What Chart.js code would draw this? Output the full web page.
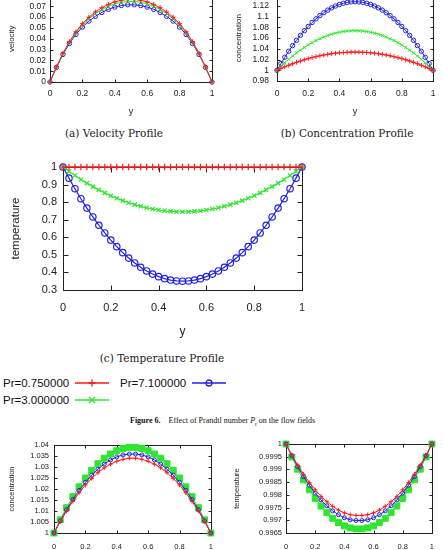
<!DOCTYPE html>
<html><head><meta charset="utf-8">
<script src="https://cdn.jsdelivr.net/npm/chart.js@4.4.1/dist/chart.umd.min.js"></script>
<style>
html,body{margin:0;padding:0;background:#fff;}
body{width:443px;height:550px;overflow:hidden;position:relative;}
canvas{position:absolute;}
.cap{position:absolute;font-family:"DejaVu Serif","Liberation Serif",serif;font-size:10.5px;color:#1a1a1a;white-space:nowrap;transform:translate(-50%,-50%);}
.leg{position:absolute;font-family:"Liberation Sans",Arial,sans-serif;font-size:11.5px;color:#111;white-space:nowrap;line-height:14px;}
.fig{position:absolute;font-family:"Liberation Serif","Times New Roman",serif;font-size:8px;color:#111;white-space:nowrap;line-height:10px;}
svg{position:absolute;}
</style></head><body>
<div class="cap" style="left:114px;top:133px">(a) Velocity Profile</div>
<div class="cap" style="left:347px;top:133px">(b) Concentration Profile</div>
<div class="cap" style="left:162px;top:358px">(c) Temperature Profile</div>

<div class="leg" style="left:3px;top:376px">Pr=0.750000</div>
<svg style="left:74px;top:378px" width="36" height="10"><line x1="1" y1="5" x2="35" y2="5" stroke="#ff1a1a" stroke-width="1.3"/><path d="M18 1.5V8.5M14.5 5H21.5" stroke="#ff1a1a" stroke-width="1.3"/></svg>
<div class="leg" style="left:120px;top:376px">Pr=7.100000</div>
<svg style="left:191px;top:378px" width="36" height="10"><line x1="1" y1="5" x2="35" y2="5" stroke="#2020e0" stroke-width="1.3"/><circle cx="18" cy="5" r="3" fill="none" stroke="#2020e0" stroke-width="1.3"/></svg>
<div class="leg" style="left:3px;top:393px">Pr=3.000000</div>
<svg style="left:74px;top:395px" width="36" height="10"><line x1="1" y1="5" x2="35" y2="5" stroke="#2ee62e" stroke-width="1.3"/><path d="M15 2L21 8M21 2L15 8" stroke="#2ee62e" stroke-width="1.3"/></svg>

<div class="fig" style="left:130px;top:416px"><b>Figure 6.</b>&nbsp;&nbsp;&nbsp; Effect of Prandtl number <i>P</i><sub style="font-size:5.5px">r</sub> on the flow fields</div>

<script>
// ---------------- data ----------------
const yCoarse = [0,0.04,0.08,0.12,0.16,0.2,0.24,0.28,0.32,0.36,0.4,0.44,0.48,0.52,0.56,0.6,0.64,0.68,0.72,0.76,0.8,0.84,0.88,0.92,0.96,1];
const yFine = [0,0.025,0.05,0.075,0.1,0.125,0.15,0.175,0.2,0.225,0.25,0.275,0.3,0.325,0.35,0.375,0.4,0.425,0.45,0.475,0.5,0.525,0.55,0.575,0.6,0.625,0.65,0.675,0.7,0.725,0.75,0.775,0.8,0.825,0.85,0.875,0.9,0.925,0.95,0.975,1];

const seriesNames = ['Pr=0.750000','Pr=3.000000','Pr=7.100000'];

const velRed   = [0,0.0140,0.0266,0.0373,0.0464,0.0539,0.0599,0.0648,0.0687,0.0718,0.0741,0.0756,0.0764,0.0764,0.0756,0.0741,0.0718,0.0687,0.0648,0.0599,0.0539,0.0464,0.0373,0.0266,0.0140,0];
const velGreen = [0,0.0138,0.0262,0.0367,0.0456,0.0528,0.0586,0.0633,0.0671,0.0701,0.0723,0.0737,0.0745,0.0745,0.0737,0.0723,0.0701,0.0671,0.0633,0.0586,0.0528,0.0456,0.0367,0.0262,0.0138,0];
const velBlue  = [0,0.0135,0.0255,0.0355,0.0440,0.0508,0.0563,0.0607,0.0643,0.0672,0.0693,0.0707,0.0714,0.0714,0.0707,0.0693,0.0672,0.0643,0.0607,0.0563,0.0508,0.0440,0.0355,0.0255,0.0135,0];

const concRed   = [1,1.0033,1.0065,1.0094,1.0122,1.0149,1.0173,1.0196,1.0218,1.0237,1.0255,1.0271,1.0286,1.0298,1.0309,1.0319,1.0326,1.0332,1.0337,1.0339,1.034,1.0339,1.0337,1.0332,1.0326,1.0319,1.0309,1.0298,1.0286,1.0271,1.0255,1.0237,1.0218,1.0196,1.0173,1.0149,1.0122,1.0094,1.0065,1.0033,1];
const concGreen = [1,1.0072,1.0141,1.0205,1.0266,1.0324,1.0377,1.0427,1.0474,1.0516,1.0555,1.059,1.0622,1.0649,1.0673,1.0694,1.071,1.0723,1.0733,1.0738,1.074,1.0738,1.0733,1.0723,1.071,1.0694,1.0673,1.0649,1.0622,1.059,1.0555,1.0516,1.0474,1.0427,1.0377,1.0324,1.0266,1.0205,1.0141,1.0072,1];
const concBlue  = [1,1.0125,1.0243,1.0355,1.0461,1.056,1.0653,1.0739,1.0819,1.0893,1.096,1.1021,1.1075,1.1123,1.1165,1.12,1.1229,1.1251,1.1267,1.1277,1.128,1.1277,1.1267,1.1251,1.1229,1.12,1.1165,1.1123,1.1075,1.1021,1.096,1.0893,1.0819,1.0739,1.0653,1.056,1.0461,1.0355,1.0243,1.0125,1];

const tempRed   = [1,1,1,1,1,1,1,1,1,1,1,1,1,1,1,1,1,1,1,1,1,1,1,1,1,1,1,1,1,1,1,1,1,1,1,1,1,1,1,1,1];
const tempGreen = [1,0.9751,0.9516,0.9292,0.9082,0.8884,0.87,0.8527,0.8368,0.8221,0.8088,0.7966,0.7858,0.7762,0.768,0.7609,0.7552,0.7507,0.7476,0.7456,0.745,0.7456,0.7476,0.7507,0.7552,0.7609,0.768,0.7762,0.7858,0.7966,0.8088,0.8221,0.8368,0.8527,0.87,0.8884,0.9082,0.9292,0.9516,0.9751,1];
const tempBlue  = [1,0.9366,0.8765,0.8196,0.766,0.7156,0.6685,0.6246,0.584,0.5466,0.5125,0.4816,0.454,0.4296,0.4085,0.3906,0.376,0.3646,0.3565,0.3516,0.35,0.3516,0.3565,0.3646,0.376,0.3906,0.4085,0.4296,0.454,0.4816,0.5125,0.5466,0.584,0.6246,0.6685,0.7156,0.766,0.8196,0.8765,0.9366,1];

const botConcRed   = [1,1.0052,1.01,1.0144,1.0183,1.0218,1.0248,1.0274,1.0296,1.0313,1.0326,1.0335,1.034,1.034,1.0335,1.0326,1.0313,1.0296,1.0274,1.0248,1.0218,1.0183,1.0144,1.01,1.0052,1];
const botConcBlue  = [1,1.0055,1.0106,1.0152,1.0194,1.023,1.0263,1.029,1.0313,1.0332,1.0346,1.0355,1.0359,1.0359,1.0355,1.0346,1.0332,1.0313,1.029,1.0263,1.023,1.0194,1.0152,1.0106,1.0055,1];
const botConcGreen = [1,1.006,1.0115,1.0165,1.021,1.025,1.0285,1.0315,1.034,1.0359,1.0374,1.0384,1.0389,1.0389,1.0384,1.0374,1.0359,1.034,1.0315,1.0285,1.025,1.021,1.0165,1.0115,1.006,1];

const botTempRed   = [1,0.99957,0.99917,0.99881,0.99848,0.9982,0.99794,0.99773,0.99755,0.9974,0.99729,0.99722,0.99719,0.99719,0.99722,0.99729,0.9974,0.99755,0.99773,0.99794,0.9982,0.99848,0.99881,0.99917,0.99957,1];
const botTempBlue  = [1,0.99954,0.99911,0.99872,0.99838,0.99807,0.9978,0.99757,0.99737,0.99722,0.9971,0.99702,0.99699,0.99699,0.99702,0.9971,0.99722,0.99737,0.99757,0.9978,0.99807,0.99838,0.99872,0.99911,0.99954,1];
const botTempGreen = [1,0.99949,0.99901,0.99859,0.9982,0.99786,0.99756,0.9973,0.99708,0.99691,0.99678,0.9967,0.99666,0.99666,0.9967,0.99678,0.99691,0.99708,0.9973,0.99756,0.99786,0.9982,0.99859,0.99901,0.99949,1];

const xTickVals     = [0,0.2,0.4,0.6,0.8,1];
const velTickVals   = [0,0.01,0.02,0.03,0.04,0.05,0.06,0.07,0.08];
const concTickVals  = [0.98,1,1.02,1.04,1.06,1.08,1.1,1.12,1.14];
const tempTickVals  = [0.3,0.4,0.5,0.6,0.7,0.8,0.9,1];
const bConcTickVals = [1,1.005,1.01,1.015,1.02,1.025,1.03,1.035,1.04];
const bTempTickVals = [0.9965,0.997,0.9975,0.998,0.9985,0.999,0.9995,1];

// ---------------- styles ----------------
const RED='#ff1a1a', GREEN='#2ee62e', BLUE='#2020e0';
const SANS='"Liberation Sans", Arial, sans-serif';

const framePlugin = {
  id:'frame',
  beforeDatasetsDraw(chart, args, o){
    const {ctx, chartArea:a, scales:{x,y}} = chart;
    const tl = o.tl || 4;
    const L=Math.round(a.left)+0.5, R=Math.round(a.right)+0.5, T=Math.round(a.top)+0.5, B=Math.round(a.bottom)+0.5;
    ctx.save();
    ctx.strokeStyle='#222'; ctx.lineWidth=1;
    ctx.beginPath();
    x.ticks.forEach(t=>{const p=Math.round(x.getPixelForValue(t.value))+0.5; ctx.moveTo(p,B); ctx.lineTo(p,B-tl); ctx.moveTo(p,T); ctx.lineTo(p,T+tl);});
    y.ticks.forEach(t=>{const p=Math.round(y.getPixelForValue(t.value))+0.5; ctx.moveTo(L,p); ctx.lineTo(L+tl,p); ctx.moveTo(R,p); ctx.lineTo(R-tl,p);});
    ctx.stroke();
    ctx.strokeRect(L,T,R-L,B-T);
    ctx.restore();
  }
};

function ds(label, xs, ys, color, style, r, bw){
  return {label, data: xs.map((x,i)=>({x, y: ys[i]})), borderColor: color, backgroundColor: color,
    pointStyle: style, pointRadius: r, pointBorderColor: color,
    pointBackgroundColor: style==='rect' ? color : 'rgba(0,0,0,0)',
    pointBorderWidth: bw||1, borderWidth: bw||1, tension: 0, clip: false};
}

function mk(c){
  const cv=document.createElement('canvas');
  cv.width=c.W; cv.height=c.H;
  cv.style.left=c.L+'px'; cv.style.top=c.T+'px'; cv.style.width=c.W+'px'; cv.style.height=c.H+'px';
  document.body.appendChild(cv);
  const fmt = v => String(Number(v.toFixed(6)));
  new Chart(cv, {
    type:'line',
    data:{datasets:c.datasets},
    plugins:[framePlugin],
    options:{
      responsive:false, animation:false, events:[],
      layout:{padding:{left:0, top:c.y0-c.T, right:c.L+c.W-c.x1, bottom:0}},
      plugins:{legend:{display:false}, tooltip:{enabled:false}, frame:{tl:c.tl}},
      scales:{
        x:{type:'linear', min:0, max:1,
          afterBuildTicks:s=>{s.ticks=xTickVals.map(v=>({value:v}));},
          afterFit:s=>{s.height=c.T+c.H-c.y1;},
          grid:{display:false, drawTicks:false}, border:{display:false},
          ticks:{padding:c.xPad, autoSkip:false, maxRotation:0, color:'#222', font:{family:SANS, size:c.tf}, callback:fmt},
          title:{display:!!c.xTitle, text:c.xTitle||'', color:'#222', font:{family:SANS, size:c.xtf}, padding:{top:0,bottom:c.xTitlePad}}},
        y:{type:'linear', min:c.ymin, max:c.ymax,
          afterBuildTicks:s=>{s.ticks=c.yTicks.map(v=>({value:v}));},
          afterFit:s=>{s.width=c.x0-c.L;},
          grid:{display:false, drawTicks:false}, border:{display:false},
          ticks:{padding:c.yPad, autoSkip:false, color:'#222', font:{family:SANS, size:c.tf}, callback:fmt},
          title:{display:true, text:c.yTitle, color:'#222', font:{family:SANS, size:c.ytf}, padding:{top:c.yTitlePad,bottom:0}}}
      }
    }
  });
}

// (a) velocity
mk({L:0,T:-20,W:222,H:140, x0:50,x1:212,y0:-4.5,y1:82, ymin:0,ymax:0.08, yTicks:velTickVals,
  tf:8.5, xtf:9, ytf:8, xPad:6.8, yPad:4, xTitle:'y', xTitlePad:2.6, yTitle:'velocity', yTitlePad:7.2, tl:3,
  datasets:[ds(seriesNames[0],yCoarse,velRed,RED,'cross',2.4), ds(seriesNames[1],yCoarse,velGreen,GREEN,'crossRot',2.2), ds(seriesNames[2],yCoarse,velBlue,BLUE,'circle',2.2)]});

// (b) concentration
mk({L:222,T:-20,W:221,H:140, x0:277,x1:439,y0:-4.7,y1:81, ymin:0.98,ymax:1.14, yTicks:concTickVals,
  tf:8.5, xtf:9, ytf:8, xPad:7.6, yPad:8, xTitle:'y', xTitlePad:2.6, yTitle:'concentration', yTitlePad:12.2, tl:3,
  datasets:[ds(seriesNames[0],yFine,concRed,RED,'cross',2.4), ds(seriesNames[1],yFine,concGreen,GREEN,'crossRot',2.2), ds(seriesNames[2],yFine,concBlue,BLUE,'circle',2.2)]});

// (c) temperature
mk({L:0,T:150,W:320,H:190, x0:63,x1:302,y0:167,y1:290, ymin:0.3,ymax:1, yTicks:tempTickVals,
  tf:11, xtf:12, ytf:11.5, xPad:11.4, yPad:6, xTitle:'y', xTitlePad:0.8, yTitle:'temperature', yTitlePad:9.1, tl:5,
  datasets:[ds(seriesNames[0],yFine,tempRed,RED,'cross',3.2,1.2), ds(seriesNames[1],yFine,tempGreen,GREEN,'crossRot',3,1.2), ds(seriesNames[2],yFine,tempBlue,BLUE,'circle',3.2,1.2)]});

// bottom-left concentration
mk({L:0,T:425,W:222,H:125, x0:54,x1:212,y0:445,y1:533, ymin:1,ymax:1.04, yTicks:bConcTickVals,
  tf:7.5, xtf:8, ytf:7.5, xPad:9.0, yPad:5, xTitle:'', xTitlePad:0, yTitle:'concentration', yTitlePad:7.5, tl:3,
  datasets:[ds(seriesNames[0],yCoarse,botConcRed,RED,'cross',2.2), ds(seriesNames[2],yCoarse,botConcBlue,BLUE,'circle',2), ds(seriesNames[1],yCoarse,botConcGreen,GREEN,'rect',4.2)]});

// bottom-right temperature
mk({L:222,T:425,W:221,H:125, x0:286,x1:440,y0:444,y1:533, ymin:0.9965,ymax:1, yTicks:bTempTickVals,
  tf:7.5, xtf:8, ytf:7.5, xPad:9.0, yPad:4, xTitle:'', xTitlePad:0, yTitle:'temperature', yTitlePad:10.5, tl:3,
  datasets:[ds(seriesNames[0],yCoarse,botTempRed,RED,'cross',2.2), ds(seriesNames[2],yCoarse,botTempBlue,BLUE,'circle',2), ds(seriesNames[1],yCoarse,botTempGreen,GREEN,'rect',4.2)]});
</script>
</body></html>
